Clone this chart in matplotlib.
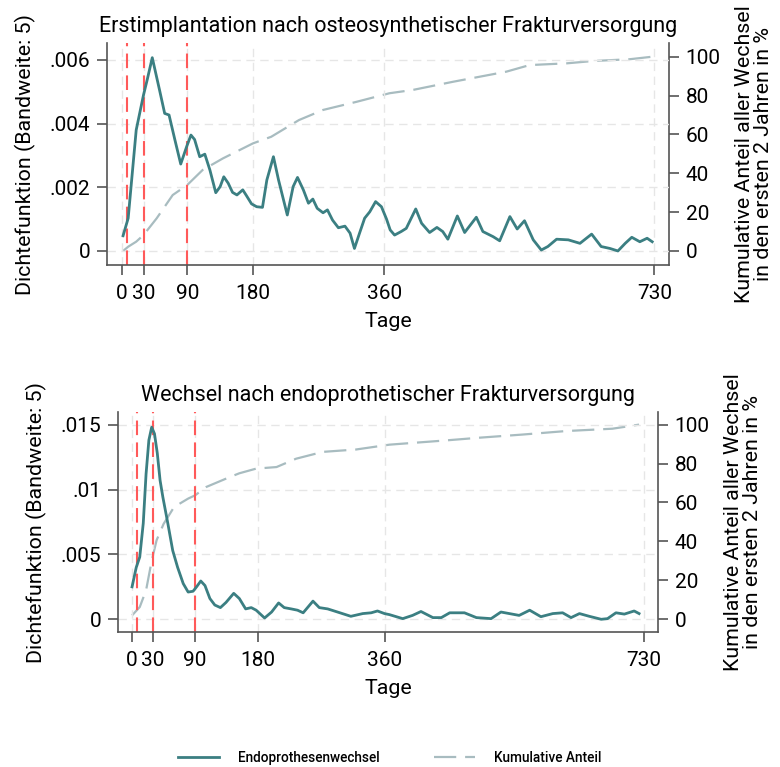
import numpy as np
import matplotlib
matplotlib.use('Agg')
import matplotlib.pyplot as plt
from matplotlib.lines import Line2D

plt.rcParams['font.family'] = ['Roboto', 'DejaVu Sans']

# Erstimplantation nach osteosynthetischer Frakturversorgung
top_days = [2, 9, 20, 30, 35, 42, 52, 59, 65, 73, 81, 89, 95, 100, 107, 114, 121,
            129, 135, 140, 146, 152, 158, 166, 171, 178, 185, 193, 199, 208, 215,
            227, 235, 241, 249, 256, 262, 268, 276, 282, 289, 297, 306, 313, 319,
            326, 333, 340, 348, 356, 363, 368, 374, 383, 390, 403, 411, 422, 432,
            440, 447, 460, 470, 486, 495, 509, 518, 532, 542, 552, 564, 575, 584,
            596, 612, 628, 644, 657, 669, 680, 690, 699, 710, 720, 727]
top_dens = [0.00048, 0.00103, 0.0038, 0.0049, 0.00537, 0.00607, 0.00505, 0.00432,
            0.00427, 0.00349, 0.00273, 0.00327, 0.00364, 0.0035, 0.00296, 0.00304,
            0.00254, 0.00183, 0.00202, 0.00233, 0.00213, 0.00184, 0.00176, 0.00192,
            0.00174, 0.00148, 0.00139, 0.00137, 0.00223, 0.00296, 0.00223, 0.00113,
            0.00202, 0.00231, 0.00192, 0.0015, 0.00163, 0.00134, 0.0012, 0.00129,
            0.00097, 0.00073, 0.00078, 0.00056, 0.00008, 0.00056, 0.00103, 0.00123,
            0.00155, 0.00139, 0.001, 0.00066, 0.0005, 0.00061, 0.00071, 0.00132,
            0.00087, 0.00058, 0.00074, 0.00061, 0.00037, 0.0011, 0.00058, 0.00106,
            0.00061, 0.00045, 0.00032, 0.00108, 0.00069, 0.00095, 0.00035, 0.00003,
            0.00014, 0.00037, 0.00035, 0.00024, 0.00053, 0.00014, 0.00008, 0.0,
            0.00024, 0.00043, 0.00029, 0.0004, 0.00029]
top_cum_days = [2, 9, 20, 30, 48, 70, 90, 111, 139, 180, 205, 243, 276, 322, 367,
                399, 454, 527, 559, 610, 646, 696, 727]
top_cum = [0, 2.2, 4.8, 8.2, 16.8, 28.8, 34, 41.7, 47.7, 55.4, 58.8, 67.4, 72.6,
           76.8, 81.2, 82.9, 87.1, 92.3, 95.7, 96.6, 97.8, 98.7, 100]

# Wechsel nach endoprothetischer Frakturversorgung
bot_days = [0, 6, 11, 16, 20, 24, 28, 32, 36, 40, 44, 51, 58, 65, 73, 80, 87, 92,
            98, 104, 111, 118, 126, 134, 145, 153, 162, 170, 177, 189, 199, 209,
            217, 227, 236, 244, 258, 267, 279, 293, 312, 329, 341, 350, 360, 367,
            386, 400, 412, 429, 441, 453, 474, 491, 512, 526, 552, 567, 583, 600,
            614, 626, 638, 652, 669, 678, 690, 702, 716, 723]
bot_dens = [0.0025, 0.004, 0.0048, 0.0074, 0.0112, 0.0138, 0.0148, 0.0143, 0.0128,
            0.0107, 0.0094, 0.0074, 0.0053, 0.004, 0.00275, 0.0021, 0.00216, 0.0025,
            0.00295, 0.0026, 0.0016, 0.0011, 0.0009, 0.0013, 0.002, 0.0016, 0.0008,
            0.0009, 0.0007, 0.0001, 0.00056, 0.00126, 0.0009, 0.0008, 0.0007, 0.0005,
            0.0014, 0.0009, 0.0008, 0.00056, 0.00023, 0.00044, 0.0005, 0.00064,
            0.00044, 0.00036, 0.00005, 0.0003, 0.0006, 0.00013, 0.00013, 0.0005,
            0.0005, 0.00013, 0.00005, 0.00056, 0.0003, 0.0007, 0.0002, 0.00044,
            0.0005, 0.00013, 0.00044, 0.00023, 0.0, 0.00005, 0.0005, 0.0004,
            0.00064, 0.00044]
bot_cum_days = [0, 11, 20, 28, 35, 45, 60, 80, 90, 106, 139, 153, 177, 206, 234,
                272, 319, 367, 400, 448, 496, 557, 619, 685, 723]
bot_cum = [2, 6.3, 14.9, 30, 40.6, 49, 57.7, 62, 63.7, 68, 73, 75, 77.4, 78.2,
           82.5, 86, 87.2, 89.7, 90.6, 91.9, 93.3, 94.9, 96.7, 97.9, 100]

x_ticks = [0, 30, 90, 180, 360, 730]
ref_days = [7, 30, 90]
cum_ticks = [0, 20, 40, 60, 80, 100]

TEAL = '#3b7f82'
GRAY = '#a8bcc0'
RED = '#ff5a5a'
SPINE = '#555555'
GRID = '#e6e6e6'


def draw_panel(fig, rect, title, days, dens, cum_days, cum, ylim, yticks, ylabels, cum_top):
    ax = fig.add_axes(rect)
    ax2 = ax.twinx()
    ax.set_zorder(ax2.get_zorder() + 1)
    ax.patch.set_visible(False)

    ax2.plot(cum_days, cum, color=GRAY, linewidth=1.6, dashes=(10, 4))
    for d in ref_days:
        ax.axvline(d, color=RED, linewidth=1.5, dashes=(7, 3.5))
    ax.plot(days, dens, color=TEAL, linewidth=2)

    ax.set_xlim(-20, 750)
    ax.set_ylim(ylim)
    ax2.set_ylim(ylim[0] / cum_top * 100, ylim[1] / cum_top * 100)
    ax.set_xticks(x_ticks)
    ax.set_yticks(yticks)
    ax.set_yticklabels(ylabels)
    ax2.set_yticks(cum_ticks)

    ax.grid(True, color=GRID, linewidth=1, dashes=(6, 4))
    for s in ['top', 'right']:
        ax.spines[s].set_visible(False)
    for s in ['top', 'left', 'bottom']:
        ax2.spines[s].set_visible(False)
    for a in (ax, ax2):
        for s in a.spines.values():
            s.set_color(SPINE)
            s.set_linewidth(1.2)
        a.tick_params(direction='out', length=7, width=1.2, color=SPINE,
                      labelsize=15, pad=5)
    ax.tick_params(axis='x', pad=7)

    ax.set_title(title, fontsize=15.5, pad=8)
    ax.set_xlabel('Tage', fontsize=15.4, labelpad=6)
    ax.set_ylabel('Dichtefunktion (Bandweite: 5)', fontsize=15.4, labelpad=10)
    ax2.set_ylabel('Kumulative Anteil aller Wechsel\nin den ersten 2 Jahren in %',
                   fontsize=15.4, linespacing=1.0, labelpad=10)
    return ax, ax2


fig = plt.figure(figsize=(7.8, 7.67), dpi=100)

draw_panel(fig, [0.1372, 0.6545, 0.7205, 0.2894],
           'Erstimplantation nach osteosynthetischer Frakturversorgung',
           top_days, top_dens, top_cum_days, top_cum,
           (-0.00044, 0.00653), [0, 0.002, 0.004, 0.006],
           ['0', '.002', '.004', '.006'], 0.0061)

draw_panel(fig, [0.1513, 0.1760, 0.6923, 0.2868],
           'Wechsel nach endoprothetischer Frakturversorgung',
           bot_days, bot_dens, bot_cum_days, bot_cum,
           (-0.00098, 0.01597), [0, 0.005, 0.01, 0.015],
           ['0', '.005', '.01', '.015'], 0.015)

handles = [Line2D([], [], color=TEAL, linewidth=2),
           Line2D([], [], color=GRAY, linewidth=1.6, dashes=(10, 4))]
fig.legend(handles, ['Endoprothesenwechsel', 'Kumulative Anteil'],
           loc='center', bbox_to_anchor=(0.5, 0.012), ncol=2, frameon=False,
           prop={'size': 9.8, 'weight': 'medium'},
           handlelength=3.0, handletextpad=1.4, columnspacing=4.0)

fig.savefig('out.png', dpi=100)
print("Saved: out.png")
